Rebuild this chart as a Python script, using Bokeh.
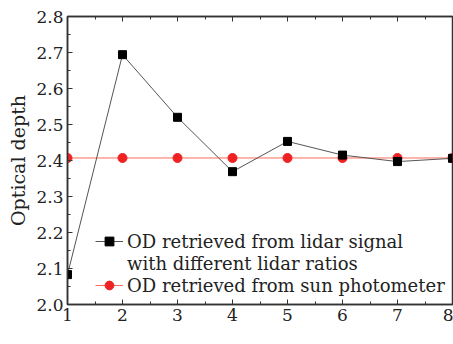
from bokeh.plotting import figure
from bokeh.models import (LinearAxis, FixedTicker, Range1d, Legend, LegendItem, Label,
                          NumeralTickFormatter)
from bokeh.embed import file_html
from bokeh.resources import INLINE

iterations = [1, 2, 3, 4, 5, 6, 7, 8]
od_lidar = [2.083, 2.694, 2.520, 2.369, 2.453, 2.415, 2.397, 2.406]
od_sun = [2.407, 2.407, 2.407, 2.407, 2.407, 2.407, 2.407, 2.407]
x_ticks = [1, 2, 3, 4, 5, 6, 7, 8]
y_ticks = [2.0, 2.1, 2.2, 2.3, 2.4, 2.5, 2.6, 2.7, 2.8]
y_minor = [2.05, 2.15, 2.25, 2.35, 2.45, 2.55, 2.65, 2.75]
x_minor = [1.5, 2.5, 3.5, 4.5, 5.5, 6.5, 7.5]

FONT = "DejaVu Serif"
TICK_FS = "17px"
LAB_FS = "18px"
LEG_FS = "18px"

p = figure(width=453, height=344, output_backend="svg", toolbar_location=None,
           x_range=Range1d(1, 8), y_range=Range1d(2.0, 2.8),
           min_border_left=67, min_border_right=1, min_border_top=16, min_border_bottom=40,
           x_axis_type=None, y_axis_type=None)
p.grid.visible = False
p.outline_line_color = "#333333"
p.outline_line_width = 1.5


def style_axis(ax, show_labels):
    ax.major_tick_in = 5
    ax.major_tick_out = 0
    ax.minor_tick_in = 3
    ax.minor_tick_out = 0
    ax.axis_line_color = "#333333"
    ax.axis_line_width = 1.5
    ax.major_tick_line_color = "#333333"
    ax.minor_tick_line_color = "#333333"
    ax.major_label_text_font = FONT
    ax.major_label_text_font_size = TICK_FS if show_labels else "0px"
    ax.major_label_text_color = "#222222"
    ax.major_label_standoff = 4


xt = FixedTicker(ticks=x_ticks, minor_ticks=x_minor)
yt = FixedTicker(ticks=y_ticks, minor_ticks=y_minor)

xb = LinearAxis(ticker=xt)
style_axis(xb, True)
p.add_layout(xb, "below")
xa = LinearAxis(ticker=xt)
style_axis(xa, False)
xa.major_label_standoff = 0
xa.major_label_overrides = {t: "" for t in x_ticks}
p.add_layout(xa, "above")

yl = LinearAxis(ticker=yt, axis_label="Optical depth",
                formatter=NumeralTickFormatter(format="0.0"))
style_axis(yl, True)
yl.axis_label_text_font = FONT
yl.axis_label_text_font_size = "19px"
yl.axis_label_text_font_style = "normal"
yl.axis_label_text_color = "#222222"
yl.axis_label_standoff = 4
p.add_layout(yl, "left")

r_sun_line = p.line(iterations, od_sun, line_color="#ff6a5a", line_width=1)
r_sun_pts = p.scatter(iterations, od_sun, marker="circle", size=9,
                      fill_color="#ee2222", line_color="#ee2222")
r_lid_line = p.line(iterations, od_lidar, line_color="#555555", line_width=1)
r_lid_pts = p.scatter(iterations, od_lidar, marker="square", size=8,
                      fill_color="black", line_color="black")

legend = Legend(items=[
    LegendItem(label="OD retrieved from lidar signal",
               renderers=[r_lid_line, r_lid_pts]),
    LegendItem(label="with different lidar ratios", renderers=[]),
    LegendItem(label="OD retrieved from sun photometer",
               renderers=[r_sun_line, r_sun_pts]),
], location=(28, 8))
legend.label_text_font = FONT
legend.label_text_font_size = LEG_FS
legend.label_text_color = "#222222"
legend.background_fill_alpha = 0
legend.border_line_alpha = 0
legend.padding = 0
legend.margin = 0
legend.spacing = 0
legend.glyph_width = 28
legend.glyph_height = 22
legend.label_standoff = 4
legend.label_height = 22
p.add_layout(legend, "center")

lab1 = Label(x=5.25, y=1.905, text="Iterations /", text_font=FONT, text_font_size=LAB_FS,
             text_align="right", text_baseline="middle", text_color="#222222")
lab2 = Label(x=5.25, y=1.905, text="N", text_font=FONT, text_font_size=LAB_FS,
             text_font_style="italic", text_align="left", text_baseline="middle",
             text_color="#222222")
p.add_layout(lab1)
p.add_layout(lab2)

open("out.html", "w").write(file_html(p, INLINE))
